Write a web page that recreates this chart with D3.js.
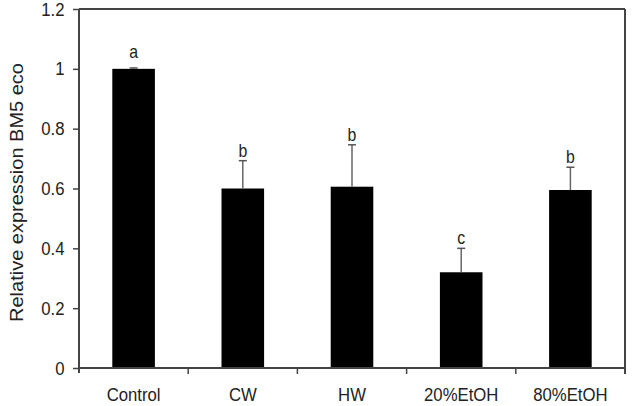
<!DOCTYPE html>
<html>
<head>
<meta charset="utf-8">
<script src="https://cdn.jsdelivr.net/npm/d3@7"></script>
<style>
  body { margin: 0; background: #fff; }
  text { font-family: "Liberation Sans", Arial, sans-serif; fill: #222; }
</style>
</head>
<body>
<div id="div_chart"></div>
<script>
// Chart data
var categories = ["Control", "CW", "HW", "20%EtOH", "80%EtOH"];
var values = [1.0, 0.60, 0.606, 0.32, 0.595];
var errors = [0.003, 0.093, 0.14, 0.08, 0.076];
var letters = ["a", "b", "b", "c", "b"];
var yTicks = [0, 0.2, 0.4, 0.6, 0.8, 1, 1.2];
var yTickLabels = ["0", "0.2", "0.4", "0.6", "0.8", "1", "1.2"];

// Set the dimensions of the svg
var margin = {top: 9, right: 7, bottom: 38, left: 79};
var svgWidth = 632;
var svgHeight = 406;
var graphWidth = svgWidth - margin.left - margin.right;
var graphHeight = svgHeight - margin.top - margin.bottom;
var squeeze = 0.88; // text in the source looks a bit narrow

var svg = d3.select("#div_chart")
    .append("svg")
        .attr("width", svgWidth)
        .attr("height", svgHeight)
    .append("g")
        .attr("transform", "translate(" + margin.left + "," + margin.top + ")");

// Scales
var x = d3.scaleBand()
    .domain(categories)
    .range([0, graphWidth])
    .paddingInner(0.61)
    .paddingOuter(0.305);

var y = d3.scaleLinear()
    .domain([0, 1.2])
    .range([graphHeight, 0]);

var step = x.step();
var axisColor = "#444";

// Bars
svg.selectAll(".bar")
    .data(categories)
    .enter()
    .append("rect")
    .attr("x", d => x(d))
    .attr("y", (d, i) => y(values[i]))
    .attr("width", x.bandwidth())
    .attr("height", (d, i) => y(0) - y(values[i]))
    .attr("fill", "#000");

// Error bars (upper only)
var err = svg.selectAll(".err")
    .data(categories)
    .enter()
    .append("g");
err.append("line")
    .attr("x1", d => x(d) + x.bandwidth() / 2)
    .attr("x2", d => x(d) + x.bandwidth() / 2)
    .attr("y1", (d, i) => y(values[i]))
    .attr("y2", (d, i) => y(values[i] + errors[i]))
    .attr("stroke", "#666")
    .attr("stroke-width", 1.5);
err.append("line")
    .attr("x1", d => x(d) + x.bandwidth() / 2 - 4)
    .attr("x2", d => x(d) + x.bandwidth() / 2 + 4)
    .attr("y1", (d, i) => y(values[i] + errors[i]))
    .attr("y2", (d, i) => y(values[i] + errors[i]))
    .attr("stroke", "#555")
    .attr("stroke-width", 1.5);

// Significance letters
svg.selectAll(".letter")
    .data(categories)
    .enter()
    .append("text")
    .attr("transform", (d, i) => "translate(" + (x(d) + x.bandwidth() / 2) + "," +
        (y(values[i] + errors[i]) - 4 - (i === 0 ? 6 : 0)) + ")scale(" + squeeze + ",1)")
    .attr("text-anchor", "middle")
    .style("font-size", "18px")
    .text((d, i) => letters[i]);

// Y axis
var yAxis = svg.append("g")
    .call(d3.axisLeft(y)
        .tickValues(yTicks)
        .tickSize(6)
        .tickFormat((d, i) => yTickLabels[i]));
yAxis.select(".domain").remove();
yAxis.selectAll(".tick line").attr("stroke", axisColor).attr("stroke-width", 1.5);
yAxis.selectAll(".tick text")
    .attr("x", -14.5 / squeeze)
    .attr("transform", "scale(" + squeeze + ",1)")
    .style("font-size", "19px")
    .attr("fill", "#222");

// Frame
svg.append("line")
    .attr("x1", 0).attr("x2", 0)
    .attr("y1", 0).attr("y2", graphHeight + 5)
    .attr("stroke", axisColor).attr("stroke-width", 2);
svg.append("line")
    .attr("x1", 0).attr("x2", graphWidth)
    .attr("y1", graphHeight).attr("y2", graphHeight)
    .attr("stroke", axisColor).attr("stroke-width", 2);
svg.append("line")
    .attr("x1", 0).attr("x2", graphWidth)
    .attr("y1", 0).attr("y2", 0)
    .attr("stroke", axisColor).attr("stroke-width", 2);
svg.append("line")
    .attr("x1", graphWidth).attr("x2", graphWidth)
    .attr("y1", 0).attr("y2", graphHeight + 6)
    .attr("stroke", axisColor).attr("stroke-width", 2);

// X ticks at category boundaries
svg.selectAll(".xtick")
    .data(categories.slice(1))
    .enter()
    .append("line")
    .attr("x1", d => x(d) - step * x.paddingInner() / 2)
    .attr("x2", d => x(d) - step * x.paddingInner() / 2)
    .attr("y1", graphHeight)
    .attr("y2", graphHeight + 6)
    .attr("stroke", axisColor)
    .attr("stroke-width", 1.5);

// X labels
svg.selectAll(".xlabel")
    .data(categories)
    .enter()
    .append("text")
    .attr("transform", d => "translate(" + (x(d) + x.bandwidth() / 2) + "," + (graphHeight + 33) + ")scale(" + squeeze + ",1)")
    .attr("text-anchor", "middle")
    .style("font-size", "19px")
    .text(d => d);

// Y axis title
svg.append("text")
    .attr("transform", "translate(" + (-56) + "," + (graphHeight / 2 + 4) + ")rotate(-90)scale(1," + squeeze + ")")
    .attr("text-anchor", "middle")
    .style("font-size", "20px")
    .text("Relative expression BM5 eco");
</script>
</body>
</html>
